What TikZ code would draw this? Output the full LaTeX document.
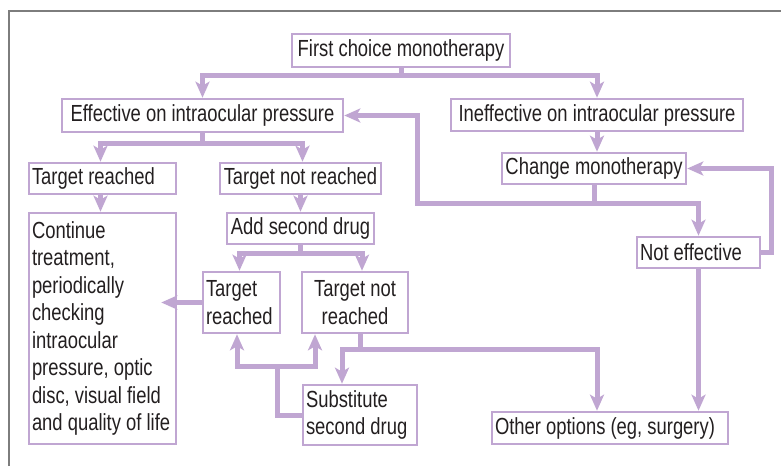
\documentclass[tikz,border=0pt]{standalone}
\usepackage{fontspec}
\setmainfont{Liberation Sans}[FakeStretch=0.79]
\usetikzlibrary{arrows.meta}
\definecolor{lav}{RGB}{192,166,210}
\definecolor{txt}{RGB}{35,31,32}
\definecolor{framegray}{RGB}{125,125,125}
\begin{document}
\begin{tikzpicture}[x=1pt,y=-1pt,
  box/.style={draw=lav,line width=2.6pt,fill=white,inner sep=0pt,text=txt,
    font=\fontsize{23.3}{27.5}\selectfont,
    execute at begin node={\spaceskip=0pt\xspaceskip=0pt}},
  conn/.style={draw=lav,line width=5pt},
  arr/.style={conn,-{Stealth[length=16pt,width=14pt,inset=4pt]}}]
\useasboundingbox (0,0) rectangle (781,466);
\fill[white] (0,0) rectangle (781,466);
\draw[framegray,line width=1.5pt] (9,466) -- (9,11) -- (781,11);

\node[box,minimum width=218pt,minimum height=33pt] (fc) at (401,50.5) {First choice monotherapy};
\node[box,minimum width=281pt,minimum height=33pt] (eff) at (202.5,115.5) {Effective on intraocular pressure};
\node[box,minimum width=292pt,minimum height=32pt] (ineff) at (597,115) {Ineffective on intraocular pressure};
\node[box,minimum width=184pt,minimum height=31pt] (chg) at (594,168.5) {Change monotherapy};
\node[box,minimum width=147pt,minimum height=31pt,text width=141pt,align=left] (tr1) at (102.5,178.5) {Target reached};
\node[box,minimum width=161pt,minimum height=31pt] (tnr1) at (300.5,178.5) {Target not reached};
\node[box,minimum width=147pt,minimum height=31pt] (add) at (300.5,228.5) {Add second drug};
\node[box,minimum width=147pt,minimum height=231pt,text width=141pt,align=left] (cont) at (102.5,328.5)
  {Continue\\treatment,\\periodically\\checking\\intraocular\\pressure, optic\\disc, visual field\\and quality of life};
\node[box,minimum width=77pt,minimum height=61pt,text width=71pt,align=left] (tr2) at (241.5,302.5) {Target\\reached};
\node[box,minimum width=106pt,minimum height=61pt,align=center] (tnr2) at (355,302.5) {Target not\\reached};
\node[box,minimum width=123pt,minimum height=31pt,text width=117pt,align=left] (notef) at (698.5,252.5) {Not effective};
\node[box,minimum width=114pt,minimum height=60pt,text width=108pt,align=left] (sub) at (360,415) {Substitute\\second drug};
\node[box,minimum width=236pt,minimum height=32pt,text width=230pt,align=left] (oth) at (610,428) {Other options (eg, surgery)};

% first choice split
\coordinate (j1) at (401,75);
\draw[conn] (fc.south) -- (j1);
\draw[arr] (j1) -| (eff.north);
\draw[arr] (j1) -| (ineff.north);
\draw[arr] (ineff.south) -- (ineff.south |- chg.north);

% change monotherapy outputs
\coordinate (j2) at (594,203);
\coordinate (k1) at (417,203);
\draw[arr] (chg.south) -- (j2) -- (k1) |- (eff.east);
\draw[arr] (j2) -| (notef.north);
\coordinate (k2) at (771,252.5);
\draw[arr] (notef.east) -- (k2) |- (chg.east);
\draw[arr] (notef.south) -- (notef.south |- oth.north);

% effective split
\coordinate (j3) at (202.5,143);
\draw[conn] (eff.south) -- (j3);
\draw[arr] (j3) -| ([xshift=-2pt]tr1.north);
\draw[arr] (j3) -| ([xshift=2pt]tnr1.north);
\draw[arr] ([xshift=-2pt]tr1.south) -- ([xshift=-2pt]cont.north);
\draw[arr] (tnr1.south) -- (tnr1.south |- add.north);

% add second drug split
\coordinate (j4) at (300.5,253);
\draw[conn] (add.south) -- (j4);
\draw[arr] (j4) -| ([xshift=-2pt]tr2.north);
\draw[arr] (j4) -| ([xshift=7pt]tnr2.north);
\draw[arr] (tr2.west) -- ([xshift=-16pt]cont.east |- tr2.west);

% target not reached (2) split
\coordinate (j5) at (360,349);
\draw[conn] ([xshift=5pt]tnr2.south) -- (j5);
\draw[arr] (j5) -| ([xshift=-18pt]sub.north);
\draw[arr] (j5) -| ([xshift=-13pt]oth.north);

% substitute loops back
\coordinate (k3) at (277,415);
\coordinate (j6) at (277,366);
\draw[conn] (sub.west) -- (k3) -- (j6);
\draw[arr] (j6) -| ([xshift=-4.5pt]tr2.south);
\draw[arr] (j6) -| ([xshift=-40pt]tnr2.south);
\end{tikzpicture}
\end{document}
